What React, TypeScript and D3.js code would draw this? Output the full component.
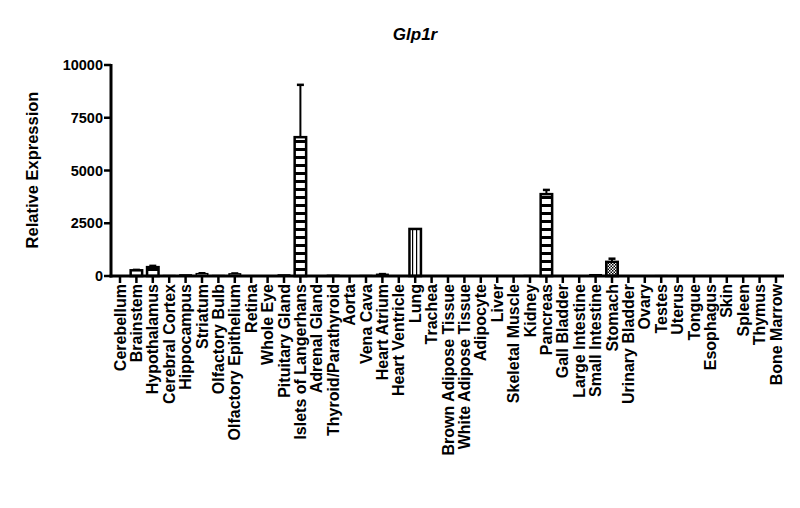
import * as d3 from "d3";
import { useMemo } from "react";

const tissues = [
  "Cerebellum", "Brainstem", "Hypothalamus", "Cerebral Cortex", "Hippocampus",
  "Striatum", "Olfactory Bulb", "Olfactory Epithelium", "Retina", "Whole Eye",
  "Pituitary Gland", "Islets of Langerhans", "Adrenal Gland", "Thyroid/Parathyroid", "Aorta",
  "Vena Cava", "Heart Atrium", "Heart Ventricle", "Lung", "Trachea",
  "Brown Adipose Tissue", "White Adipose Tissue", "Adipocyte", "Liver", "Skeletal Muscle",
  "Kidney", "Pancreas", "Gall Bladder", "Large Intestine", "Small Intestine",
  "Stomach", "Urinary Bladder", "Ovary", "Testes", "Uterus",
  "Tongue", "Esophagus", "Skin", "Spleen", "Thymus", "Bone Marrow",
];

const expression = [
  5, 270, 420, 20, 50,
  110, 20, 100, 0, 0,
  50, 6580, 0, 30, 0,
  20, 80, 0, 2230, 0,
  0, 0, 0, 0, 0,
  20, 3880, 0, 0, 60,
  670, 0, 0, 15, 0,
  0, 0, 0, 0, 0, 0,
];

const errors = [
  0, 20, 60, 0, 0,
  20, 0, 20, 0, 0,
  0, 2480, 0, 0, 0,
  0, 10, 0, 0, 0,
  0, 0, 0, 0, 0,
  0, 200, 0, 0, 0,
  150, 0, 0, 0, 0,
  0, 0, 0, 0, 0, 0,
];

const fills: { [name: string]: string } = {
  Lung: "url(#vstripe)",
  Stomach: "url(#checker)",
};

const yTicks = [0, 2500, 5000, 7500, 10000];

const W = 800;
const H = 508;
const left = 111;
const right = 784;
const top = 65;
const bottom = 276;
const font = "Arial, 'Liberation Sans', sans-serif";

export default function App() {
  const x = useMemo(
    () => d3.scaleBand<string>().domain(tissues).range([left + 0.8, right + 0.2]).paddingInner(0.3).paddingOuter(0.15),
    []
  );
  const y = useMemo(() => d3.scaleLinear().domain([0, 10000]).range([bottom, top]), []);
  const bw = x.bandwidth();

  return (
    <svg width={W} height={H} style={{ position: "absolute", left: 0, top: 0, background: "#fff" }}>
      <defs>
        <pattern id="hstripe" patternUnits="userSpaceOnUse" width="8" height="8" y={bottom}>
          <rect width="8" height="8" fill="#fff" />
          <rect y="0" width="8" height="3" fill="#000" />
        </pattern>
        <pattern id="vstripe" patternUnits="userSpaceOnUse" width="4" height="8">
          <rect width="4" height="8" fill="#fff" />
          <rect x="0" width="1.2" height="8" fill="#000" />
        </pattern>
        <pattern id="checker" patternUnits="userSpaceOnUse" width="3" height="3">
          <rect width="3" height="3" fill="#fff" />
          <rect width="1.5" height="1.5" fill="#000" />
          <rect x="1.5" y="1.5" width="1.5" height="1.5" fill="#000" />
        </pattern>
      </defs>

      <text x={415} y={40} textAnchor="middle" fontFamily={font} fontWeight="bold" fontStyle="italic" fontSize={17}>
        Glp1r
      </text>

      <text
        transform={`translate(38,170) rotate(-90)`}
        textAnchor="middle"
        fontFamily={font}
        fontWeight="bold"
        fontSize={16.5}
      >
        Relative Expression
      </text>

      {/* error bars */}
      {tissues.map((t, i) => {
        if (!errors[i]) return null;
        const cx = (x(t) ?? 0) + bw / 2;
        return (
          <g key={"e" + t} stroke="#000" strokeWidth={2}>
            <line x1={cx} x2={cx} y1={y(expression[i])} y2={y(expression[i] + errors[i])} />
            <line x1={cx - 3.5} x2={cx + 3.5} y1={y(expression[i] + errors[i])} y2={y(expression[i] + errors[i])} strokeWidth={2.5} />
          </g>
        );
      })}

      {/* bars */}
      {tissues.map((t, i) => {
        const v = expression[i];
        if (v <= 0) return null;
        const h = bottom - y(v);
        return (
          <rect
            key={t}
            x={x(t)}
            y={y(v)}
            width={bw}
            height={h}
            fill={fills[t] ?? "url(#hstripe)"}
            stroke="#000"
            strokeWidth={h > 3 ? 2.5 : 1.5}
          />
        );
      })}

      {/* y axis */}
      <line x1={left} x2={left} y1={top - 1} y2={bottom + 1.5} stroke="#000" strokeWidth={3} />
      {yTicks.map((v) => (
        <g key={v}>
          <line x1={left - 7} x2={left} y1={y(v)} y2={y(v)} stroke="#000" strokeWidth={2.5} />
          <text x={left - 8} y={y(v)} dy="0.35em" textAnchor="end" fontFamily={font} fontWeight="bold" fontSize={14.5}>
            {v}
          </text>
        </g>
      ))}

      {/* x axis */}
      <line x1={left - 1.5} x2={right} y1={bottom} y2={bottom} stroke="#000" strokeWidth={3} />
      {tissues.map((t) => {
        const cx = (x(t) ?? 0) + bw / 2;
        return (
          <g key={"t" + t}>
            <line x1={cx} x2={cx} y1={bottom} y2={bottom + 7} stroke="#000" strokeWidth={2.5} />
            <text
              transform={`translate(${cx + 5.5},${bottom + 8}) rotate(-90)`}
              textAnchor="end"
              fontFamily={font}
              fontWeight="bold"
              fontSize={16}
            >
              {t}
            </text>
          </g>
        );
      })}
    </svg>
  );
}
